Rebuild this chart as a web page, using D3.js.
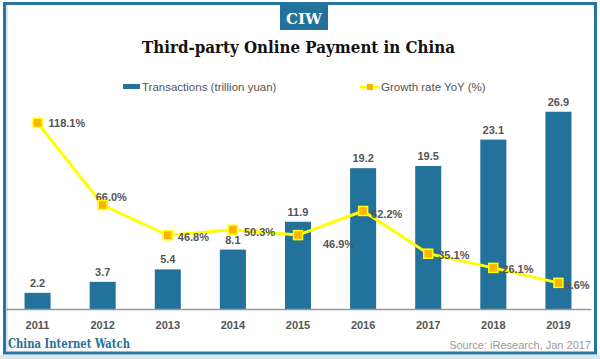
<!DOCTYPE html>
<html><head><meta charset="utf-8">
<script src="https://cdn.jsdelivr.net/npm/d3@7"></script>
<style>body{margin:0;background:#fff}svg{display:block}</style>
</head><body>
<svg id="c" width="600" height="359"></svg>
<script>
const years = ["2011","2012","2013","2014","2015","2016","2017","2018","2019"];
const transactions = [2.2, 3.7, 5.4, 8.1, 11.9, 19.2, 19.5, 23.1, 26.9];
const growth = [118.1, 66.0, 46.8, 50.3, 46.9, 62.2, 35.1, 26.1, 16.6];
const growthLabelNudge = [[11,0],[-7,-8],[10,2],[11,2],[25,9],[8,3],[10,1],[9,1],[0,2]];

const svg = d3.select("#c");
const W = 600, H = 359;
const blue = "#22729b";
const labelFont = "'Liberation Sans', Arial, sans-serif";

// bottom strip
svg.append("rect").attr("x",0).attr("y",355).attr("width",W).attr("height",4).attr("fill","#dbe7ee");
// frame
svg.append("rect").attr("x",4.5).attr("y",3.5).attr("width",591).attr("height",349.5)
  .attr("fill","#fff").attr("stroke","#2874a0").attr("stroke-width",3);
svg.append("line").attr("x1",7).attr("x2",7).attr("y1",5).attr("y2",351).attr("stroke","#a9cfe4").attr("stroke-width",1);

// CIW badge
svg.append("rect").attr("x",280).attr("y",5).attr("width",48).attr("height",25).attr("fill","#22729b");
svg.append("text").attr("x",304).attr("y",24).attr("text-anchor","middle")
  .attr("font-family","'DejaVu Serif', Georgia, serif").attr("font-weight","bold").attr("font-size",15)
  .attr("fill","#fff").text("CIW");

// Title
svg.append("text").attr("x",142).attr("y",53)
  .attr("font-family","'DejaVu Serif', Georgia, serif").attr("font-weight","bold").attr("font-size",17)
  .attr("textLength",313).attr("lengthAdjust","spacingAndGlyphs")
  .attr("fill","#111").text("Third-party Online Payment in China");

// scales
const x = d3.scaleBand().domain(years).range([5,591]).paddingInner(0.6).paddingOuter(0.3);
const yBar = d3.scaleLinear().domain([0,30]).range([309,89]);
const yLine = d3.scaleLinear().domain([0,140]).range([309,88.4]);

// bars
svg.append("g").selectAll("rect").data(transactions).join("rect")
  .attr("x",(d,i)=>x(years[i])).attr("width",x.bandwidth())
  .attr("y",d=>yBar(d)).attr("height",d=>yBar(0)-yBar(d)).attr("fill",blue);

svg.append("g").selectAll("text").data(transactions).join("text")
  .attr("x",(d,i)=>x(years[i])+x.bandwidth()/2).attr("y",d=>yBar(d)-6)
  .attr("text-anchor","middle").attr("font-family",labelFont).attr("font-weight","bold")
  .attr("font-size",11).attr("fill","#555").text(d=>d.toFixed(1));

// axis
const axis = d3.axisBottom(x).tickSize(0).tickPadding(12);
const ag = svg.append("g").attr("transform","translate(0,309)").call(axis);
ag.select(".domain").attr("stroke","#999").attr("stroke-width",1.5);
ag.selectAll("text").attr("font-family",labelFont).attr("font-weight","bold").attr("font-size",11).attr("fill","#555");

// line
const cx = (i)=>x(years[i])+x.bandwidth()/2;
const line = d3.line().x((d,i)=>cx(i)).y(d=>yLine(d));
svg.append("path").datum(growth).attr("d",line).attr("fill","none").attr("stroke","#ffff00").attr("stroke-width",3);

svg.append("g").selectAll("text").data(growth).join("text")
  .attr("x",(d,i)=>cx(i)+growthLabelNudge[i][0]).attr("y",(d,i)=>yLine(d)+growthLabelNudge[i][1]+4)
  .attr("font-family",labelFont).attr("font-weight","bold").attr("font-size",11).attr("fill","#555")
  .text(d=>d.toFixed(1)+"%");

svg.append("g").selectAll("rect").data(growth).join("rect")
  .attr("x",(d,i)=>cx(i)-4.5).attr("y",d=>yLine(d)-4.5).attr("width",9).attr("height",9)
  .attr("fill","#f7b500").attr("stroke","#ffff00").attr("stroke-width",1.5);

// legend
svg.append("rect").attr("x",123).attr("y",84).attr("width",17).attr("height",5).attr("fill",blue);
svg.append("text").attr("x",142).attr("y",91).attr("font-family",labelFont).attr("font-size",11.5)
  .attr("fill","#555").text("Transactions (trillion yuan)");
svg.append("line").attr("x1",360).attr("x2",380).attr("y1",87).attr("y2",87).attr("stroke","#ffff00").attr("stroke-width",3);
svg.append("rect").attr("x",367).attr("y",84).attr("width",6).attr("height",6).attr("fill","#f7b500");
svg.append("text").attr("x",381).attr("y",91).attr("font-family",labelFont).attr("font-size",11.5)
  .attr("fill","#555").text("Growth rate YoY (%)");

// footer
svg.append("text").attr("x",8).attr("y",348)
  .attr("font-family","'DejaVu Serif', Georgia, serif").attr("font-weight","bold").attr("font-size",12.5)
  .attr("textLength",122).attr("lengthAdjust","spacingAndGlyphs")
  .attr("fill","#2a6f97").text("China Internet Watch");
svg.append("text").attr("x",591).attr("y",349).attr("text-anchor","end")
  .attr("font-family",labelFont).attr("font-size",11).attr("fill","#999")
  .text("Source: iResearch, Jan 2017");
</script>
</body></html>
